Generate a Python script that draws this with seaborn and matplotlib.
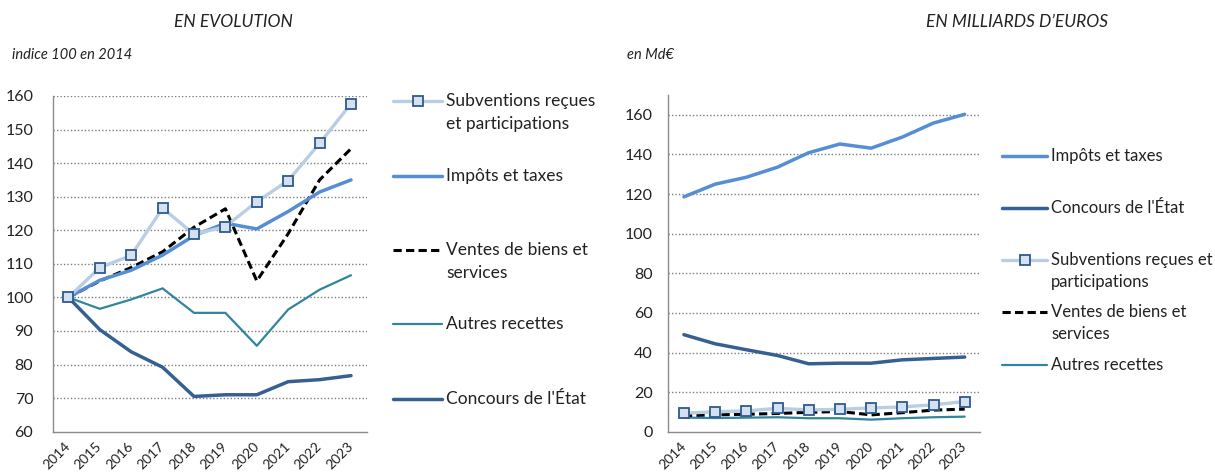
import numpy as np
import pandas as pd
import matplotlib.pyplot as plt
from matplotlib.lines import Line2D
import seaborn as sns

years = [str(y) for y in range(2014, 2024)]

# indice 100 en 2014
idx_subv = [100, 108.9, 112.5, 126.6, 118.8, 121.1, 128.5, 134.8, 145.9, 157.7]
idx_impots = [100, 105.1, 108.1, 112.6, 118.4, 122.1, 120.4, 125.6, 131.4, 135.0]
idx_ventes = [100, 104.9, 108.9, 113.6, 120.9, 126.4, 104.9, 119.0, 135.0, 144.3]
idx_autres = [100, 96.6, 99.4, 102.7, 95.4, 95.4, 85.6, 96.4, 102.3, 106.6]
idx_concours = [100, 90.4, 83.8, 79.2, 70.5, 71.0, 71.0, 74.9, 75.5, 76.7]

# en Md€
md_impots = [118.6, 125.0, 128.5, 133.6, 140.9, 145.3, 143.2, 148.8, 155.9, 160.3]
md_concours = [49.0, 44.4, 41.4, 38.5, 34.3, 34.6, 34.6, 36.3, 37.0, 37.7]
md_subv = [9.3, 10.1, 10.5, 11.8, 11.0, 11.3, 12.0, 12.5, 13.6, 15.2]
md_ventes = [8.1, 8.5, 8.8, 9.2, 9.8, 10.2, 8.5, 9.6, 10.9, 11.4]
md_autres = [7.1, 6.9, 7.1, 7.3, 6.8, 6.8, 6.1, 6.8, 7.3, 7.6]

lab_subv = "Subventions reçues et participations"
lab_impots = "Impôts et taxes"
lab_ventes = "Ventes de biens et services"
lab_autres = "Autres recettes"
lab_concours = "Concours de l'État"

sns.set_style("white")
plt.rcParams['font.family'] = ['Lato', 'DejaVu Sans']

W, H = 1215, 473
fig = plt.figure(figsize=(W / 100, H / 100), dpi=100)

styles = {
    lab_subv: dict(color='#B9CDE5', lw=2.4, ls='-', marker='s', ms=6.5, mfc='#D5E1F0', mec='#2F5A8C', mew=1.3),
    lab_impots: dict(color='#558ED5', lw=2.5, ls='-'),
    lab_ventes: dict(color='black', lw=2.2, ls=(0, (2.7, 1.4))),
    lab_autres: dict(color='#31859C', lw=1.6, ls='-'),
    lab_concours: dict(color='#376092', lw=2.5, ls='-'),
}


def px(x, y):
    return x / W, 1 - y / H


def draw_panel(rect, series, ylim, yticks, ypad):
    ax = fig.add_axes(rect)
    df = pd.DataFrame({'year': np.arange(len(years))})
    for name, vals in series:
        st = styles[name]
        sns.lineplot(x=df['year'], y=vals, ax=ax, color=st['color'], linewidth=st['lw'],
                     linestyle=st['ls'], marker=st.get('marker'), markersize=st.get('ms', 0),
                     markerfacecolor=st.get('mfc'), markeredgecolor=st.get('mec'),
                     markeredgewidth=st.get('mew', 0), zorder=3)
    ax.set_xlim(-0.5, len(years) - 0.5)
    ax.set_ylim(*ylim)
    ax.set_yticks(yticks)
    ax.set_yticklabels([str(v) for v in yticks], fontsize=11.5, color='#222222')
    ax.set_xticks(np.arange(len(years)))
    ax.set_xticklabels(years, rotation=45, ha='right', va='center', rotation_mode='anchor',
                       fontsize=10, color='#222222')
    ax.set_xticks(np.arange(len(years) + 1) - 0.5, minor=True)
    ax.tick_params(axis='x', which='major', length=0, pad=9)
    ax.tick_params(axis='x', which='minor', length=5, color='#8C8C8C', direction='out')
    ax.tick_params(axis='y', length=5, color='#8C8C8C', direction='out', pad=ypad)
    ax.set_xlabel('')
    ax.set_ylabel('')
    for yv in yticks[1:]:
        ax.axhline(yv, color='#7F7F7F', lw=1, ls=(0, (1, 1.5)), zorder=1)
    for s in ['top', 'right']:
        ax.spines[s].set_visible(False)
    for s in ['left', 'bottom']:
        ax.spines[s].set_color('#8C8C8C')
        ax.spines[s].set_linewidth(1)
    ax.patch.set_alpha(0)
    return ax


def draw_legend(items, x0, x1, xt, rows, gap, fs):
    for (name, lines), y in zip(items, rows):
        st = styles[name]
        fig.add_artist(Line2D([x0 / W, x1 / W], [1 - y / H, 1 - y / H], transform=fig.transFigure,
                              color=st['color'], lw=st['lw'], ls=st['ls']))
        if st.get('marker'):
            fig.add_artist(Line2D([(x0 + x1) / 2 / W], [1 - y / H], transform=fig.transFigure,
                                  marker='s', ms=st['ms'], mfc=st['mfc'], mec=st['mec'],
                                  mew=st['mew'], ls='none'))
        for i, t in enumerate(lines):
            fig.text(*px(xt, y + i * gap), t, fontsize=fs, va='center', ha='left', color='#222222')


# left panel
draw_panel([52.7 / W, 1 - 431.7 / H, 314 / W, 335.7 / H],
           [(lab_subv, idx_subv), (lab_impots, idx_impots), (lab_ventes, idx_ventes),
            (lab_autres, idx_autres), (lab_concours, idx_concours)][::-1],
           (60, 160), list(range(60, 161, 10)), 9)
draw_legend([(lab_subv, ["Subventions reçues", "et participations"]),
             (lab_impots, ["Impôts et taxes"]),
             (lab_ventes, ["Ventes de biens et", "services"]),
             (lab_autres, ["Autres recettes"]),
             (lab_concours, ["Concours de l'État"])],
            393, 442, 446, [101, 176, 250, 324, 399], 23, 12.5)

# right panel
draw_panel([668.3 / W, 1 - 431.7 / H, 312 / W, 336.6 / H],
           [(lab_autres, md_autres), (lab_ventes, md_ventes), (lab_subv, md_subv),
            (lab_concours, md_concours), (lab_impots, md_impots)],
           (0, 170), list(range(0, 161, 20)), 6)
draw_legend([(lab_impots, ["Impôts et taxes"]),
             (lab_concours, ["Concours de l'État"]),
             (lab_subv, ["Subventions reçues et", "participations"]),
             (lab_ventes, ["Ventes de biens et", "services"]),
             (lab_autres, ["Autres recettes"])],
            1002, 1047, 1051, [156, 208, 260, 312, 365], 22, 12)

# titles
fig.text(*px(233, 22), "EN EVOLUTION", fontsize=12.5, style='italic', ha='center', va='center', color='#222222')
fig.text(*px(1017, 22), "EN MILLIARDS D\u2019EUROS", fontsize=12.5, style='italic', ha='center', va='center', color='#222222')
fig.text(*px(12, 55), "indice 100 en 2014", fontsize=10.5, style='italic', ha='left', va='center', color='#222222')
fig.text(*px(627, 55), "en Md€", fontsize=10.5, style='italic', ha='left', va='center', color='#222222')

fig.savefig('out.png', dpi=100)
